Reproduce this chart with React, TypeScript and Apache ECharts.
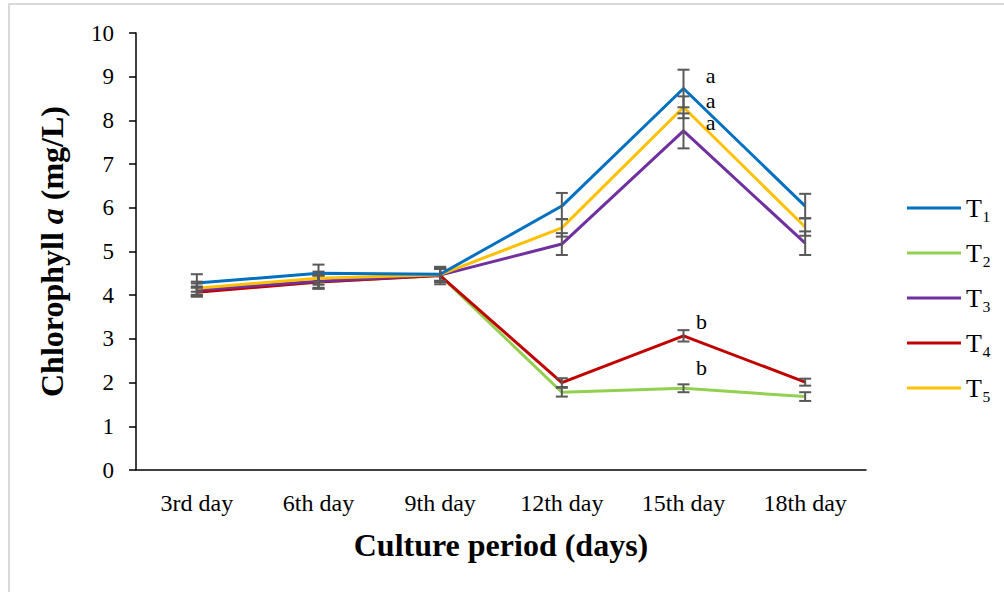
import React, { useEffect, useRef } from "react";
import * as echarts from "echarts";

const categories = ["3rd day", "6th day", "9th day", "12th day", "15th day", "18th day"];
const seriesNames = ["T₁", "T₂", "T₃", "T₄", "T₅"];
const seriesColors = ["#0070C0", "#92D050", "#7030A0", "#C00000", "#FFC000"];

const t1 = [4.28, 4.5, 4.48, 6.04, 8.73, 6.04];
const t2 = [4.1, 4.3, 4.45, 1.78, 1.87, 1.68];
const t3 = [4.12, 4.32, 4.46, 5.17, 7.76, 5.19];
const t4 = [4.07, 4.3, 4.45, 2.0, 3.07, 2.01];
const t5 = [4.16, 4.39, 4.47, 5.54, 8.3, 5.56];

const e1 = [0.2, 0.2, 0.15, 0.3, 0.43, 0.28];
const e2 = [0.1, 0.15, 0.15, 0.1, 0.09, 0.1];
const e3 = [0.15, 0.15, 0.15, 0.25, 0.4, 0.27];
const e4 = [0.1, 0.15, 0.2, 0.1, 0.13, 0.08];
const e5 = [0.15, 0.15, 0.15, 0.2, 0.25, 0.2];

const letterIndex = 4;
const letters = ["a", "b", "a", "b", "a"];

const yTicks = { min: 0, max: 10, interval: 1 };

const FONT = "'Liberation Serif', 'Times New Roman', serif";

export default function App() {
  const ref = useRef<HTMLDivElement>(null);
  useEffect(() => {
    if (!ref.current) return;
    const chart = echarts.init(ref.current, null, { renderer: "svg" });
    const values = [t1, t2, t3, t4, t5];
    const errs = [e1, e2, e3, e4, e5];
    const letterOffsets = [
      [27, -13],
      [18, -21],
      [27, -8],
      [18, -14],
      [27, -7],
    ];

    const lineSeries = values.map((v, k) => ({
      name: seriesNames[k],
      type: "line",
      data: v,
      symbol: "none",
      lineStyle: { color: seriesColors[k], width: 3 },
      itemStyle: { color: seriesColors[k] },
      z: 2 + (k === 0 ? 5 : k === 4 ? 4 : k === 2 ? 3 : k === 3 ? 2 : 1),
    }));

    const errSeries = values.map((v, k) => ({
      name: seriesNames[k] + " err",
      type: "custom",
      z: 20,
      silent: true,
      data: v.map((val, i) => [i, val, errs[k][i]]),
      encode: { x: 0, y: 1 },
      renderItem: (params: any, api: any) => {
        const x = api.value(0);
        const y = api.value(1);
        const e = api.value(2);
        const top = api.coord([x, y + e]);
        const bot = api.coord([x, y - e]);
        const w = 6;
        const st = { stroke: "#595959", lineWidth: 2 };
        return {
          type: "group",
          children: [
            { type: "line", shape: { x1: top[0], y1: top[1], x2: bot[0], y2: bot[1] }, style: st },
            { type: "line", shape: { x1: top[0] - w, y1: top[1], x2: top[0] + w, y2: top[1] }, style: st },
            { type: "line", shape: { x1: bot[0] - w, y1: bot[1], x2: bot[0] + w, y2: bot[1] }, style: st },
          ],
        };
      },
    }));

    const letterSeries = {
      name: "letters",
      type: "custom",
      z: 30,
      silent: true,
      data: values.map((v, k) => [letterIndex, v[letterIndex], k]),
      encode: { x: 0, y: 1 },
      renderItem: (params: any, api: any) => {
        const k = api.value(2);
        const p = api.coord([api.value(0), api.value(1)]);
        const off = letterOffsets[k];
        return {
          type: "text",
          x: p[0] + off[0],
          y: p[1] + off[1],
          style: {
            text: letters[k],
            fontFamily: FONT,
            fontSize: 22,
            lineHeight: 20,
            fill: "#000",
            align: "center",
            verticalAlign: "middle",
          },
        };
      },
    };

    chart.setOption({
      animation: false,
      backgroundColor: "#fff",
      textStyle: { fontFamily: FONT },
      grid: { left: 136, right: 138, top: 33, bottom: 122 },
      legend: {
        orient: "vertical",
        left: 902,
        top: 190,
        data: seriesNames,
        icon: "rect",
        itemWidth: 54,
        itemHeight: 3,
        itemGap: 19,
        textStyle: { fontFamily: FONT, fontSize: 26, color: "#000", lineHeight: 26 },
      },
      xAxis: {
        type: "category",
        data: categories,
        boundaryGap: true,
        axisLine: { lineStyle: { color: "#000", width: 1.5 } },
        axisTick: { alignWithLabel: true, length: 6, lineStyle: { color: "#000", width: 1.5 } },
        axisLabel: { fontFamily: FONT, fontSize: 24, color: "#000", margin: 21 },
        name: "Culture period (days)",
        nameLocation: "middle",
        nameGap: 59,
        nameTextStyle: { fontFamily: FONT, fontSize: 32, fontWeight: "bold", color: "#000" },
      },
      yAxis: {
        type: "value",
        min: yTicks.min,
        max: yTicks.max,
        interval: yTicks.interval,
        splitLine: { show: false },
        axisLine: { show: true, lineStyle: { color: "#000", width: 1.5 } },
        axisTick: { show: true, length: 7, lineStyle: { color: "#000", width: 1.5 } },
        axisLabel: { fontFamily: FONT, fontSize: 23, color: "#000", margin: 22 },
        name: "{b|Chlorophyll }{i|a}{b| (mg/L)}",
        nameLocation: "middle",
        nameRotate: 90,
        nameGap: 68,
        nameTextStyle: {
          rich: {
            b: { fontFamily: FONT, fontSize: 32, fontWeight: "bold", color: "#000" },
            i: { fontFamily: FONT, fontSize: 32, fontWeight: "bold", fontStyle: "italic", color: "#000" },
          },
        },
      },
      graphic: [
        { type: "rect", shape: { x: 8, y: 3, width: 1000, height: 2 }, style: { fill: "#d9d9d9" }, silent: true },
        { type: "rect", shape: { x: 8, y: 3, width: 2, height: 600 }, style: { fill: "#d9d9d9" }, silent: true },
      ],
      series: [...lineSeries, ...errSeries, letterSeries],
    });
    return () => chart.dispose();
  }, []);
  return (
    <div
      ref={ref}
      style={{ position: "fixed", left: 0, top: 0, width: 1004, height: 592 }}
    />
  );
}
